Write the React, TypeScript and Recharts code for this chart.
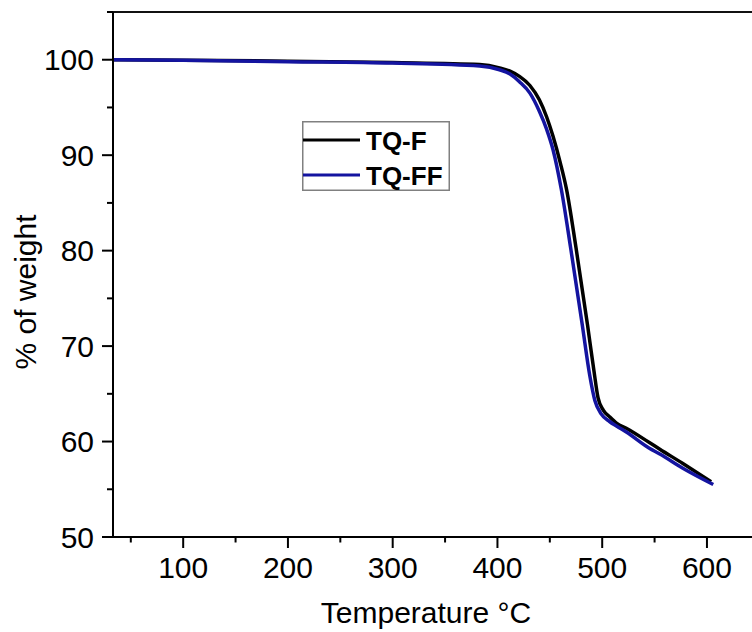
import { LineChart, Line, XAxis, YAxis, ReferenceLine, Label, Legend } from "recharts";

// TGA curves (temperature in °C, weight in %)
const tqfTemp = [33, 100, 200, 300, 383, 402, 412, 421, 431, 440, 447, 453, 460, 466, 475, 486, 492, 496, 501, 507, 514, 523, 545, 555, 577, 604];
const tqfWeight = [100.0, 99.95, 99.85, 99.7, 99.5, 99.15, 98.8, 98.25, 97.3, 95.8, 94.0, 92.0, 89.2, 86.4, 80.3, 72.2, 67.5, 64.6, 63.3, 62.6, 61.9, 61.4, 59.9, 59.2, 57.7, 55.8];

const tqffTemp = [33, 100, 200, 300, 383, 402, 412, 421, 431, 440, 447, 453, 461, 470, 481, 488, 493, 499, 507, 514, 523, 545, 555, 577, 606];
const tqffWeight = [100.0, 99.95, 99.8, 99.65, 99.35, 98.95, 98.5, 97.7, 96.5, 94.6, 92.7, 90.6, 86.4, 80.2, 72.2, 67.0, 64.3, 62.9, 62.1, 61.6, 61.0, 59.3, 58.7, 57.2, 55.5];

const xMajor = [100, 200, 300, 400, 500, 600];
const xMinor = [50, 150, 250, 350, 450, 550];
const yMajor = [50, 60, 70, 80, 90, 100];
const yMinor = [55, 65, 75, 85, 95, 105];

const seriesNames = ["TQ-F", "TQ-FF"];
const seriesColors = ["#000000", "#1414a0"];

const tqf = tqfTemp.map((t, i) => ({ t, w: tqfWeight[i] }));
const tqff = tqffTemp.map((t, i) => ({ t, w: tqffWeight[i] }));

const font = "'Liberation Sans', Arial, Helvetica, sans-serif";

const XTick = (props: any) => {
  const { x, y, payload } = props;
  const major = xMajor.includes(payload.value);
  return (
    <g>
      <line x1={x} x2={x} y1={y} y2={y + (major ? 11 : 5.5)} stroke="#000" strokeWidth={2} />
      {major && (
        <text x={x} y={y + 41} textAnchor="middle" fontSize={30} fontFamily={font} fill="#000">
          {payload.value}
        </text>
      )}
    </g>
  );
};

const YTick = (props: any) => {
  const { x, y, payload } = props;
  const major = yMajor.includes(payload.value);
  return (
    <g>
      <line x1={x} x2={x - (major ? 11 : 6)} y1={y} y2={y} stroke="#000" strokeWidth={2} />
      {major && (
        <text x={x - 19} y={y + 10.5} textAnchor="end" fontSize={30} fontFamily={font} fill="#000">
          {payload.value}
        </text>
      )}
    </g>
  );
};

const LegendBox = () => (
  <svg width={148} height={70} style={{ display: "block" }}>
    <rect x={0.75} y={0.75} width={146.5} height={68.5} fill="#fff" stroke="#808080" strokeWidth={1.5} />
    {seriesNames.map((name, i) => (
      <g key={name}>
        <line x1={1} x2={58} y1={19 + i * 35} y2={19 + i * 35} stroke={seriesColors[i]} strokeWidth={3} />
        <text x={64} y={28.5 + i * 35} fontSize={26} fontWeight="bold" fontFamily={font} fill="#000">
          {name}
        </text>
      </g>
    ))}
  </svg>
);

export default function App() {
  return (
    <div style={{ position: "absolute", left: 0, top: 0 }}>
      <LineChart width={752} height={632} margin={{ top: 12, right: 0, bottom: 0, left: 0 }}>
        <XAxis
          type="number"
          dataKey="t"
          domain={[33, 643]}
          allowDataOverflow
          ticks={[...xMinor, ...xMajor].sort((a, b) => a - b)}
          interval={0}
          tickSize={0}
          tickMargin={0}
          tickLine={false}
          tick={(p: any) => <XTick {...p} />}
          axisLine={{ stroke: "#000", strokeWidth: 2 }}
          height={95}
        >
          <Label
            content={() => (
              <text x={426} y={623} textAnchor="middle" fontSize={30} fontFamily={font} fill="#000">
                Temperature °C
              </text>
            )}
          />
        </XAxis>
        <YAxis
          type="number"
          dataKey="w"
          domain={[50, 105]}
          allowDataOverflow
          ticks={[...yMajor, ...yMinor].sort((a, b) => a - b)}
          interval={0}
          tickSize={0}
          tickMargin={0}
          tickLine={false}
          tick={(p: any) => <YTick {...p} />}
          axisLine={{ stroke: "#000", strokeWidth: 2 }}
          width={113}
        >
          <Label
            content={() => (
              <text
                x={36}
                y={292}
                transform="rotate(-90 36 292)"
                textAnchor="middle"
                fontSize={30}
                fontFamily={font}
                fill="#000"
              >
                % of weight
              </text>
            )}
          />
        </YAxis>
        <ReferenceLine y={105} stroke="#111" strokeWidth={2} ifOverflow="visible" />
        <Legend
          layout="horizontal"
          verticalAlign="middle"
          align="center"
          content={() => <LegendBox />}
          wrapperStyle={{ position: "absolute", left: 302, top: 121, width: 148, height: 70 }}
        />
        <Line
          data={tqf}
          dataKey="w"
          name={seriesNames[0]}
          type="monotone"
          stroke={seriesColors[0]}
          strokeWidth={3.5}
          dot={false}
          isAnimationActive={false}
        />
        <Line
          data={tqff}
          dataKey="w"
          name={seriesNames[1]}
          type="monotone"
          stroke={seriesColors[1]}
          strokeWidth={3.5}
          dot={false}
          isAnimationActive={false}
        />
      </LineChart>
    </div>
  );
}
